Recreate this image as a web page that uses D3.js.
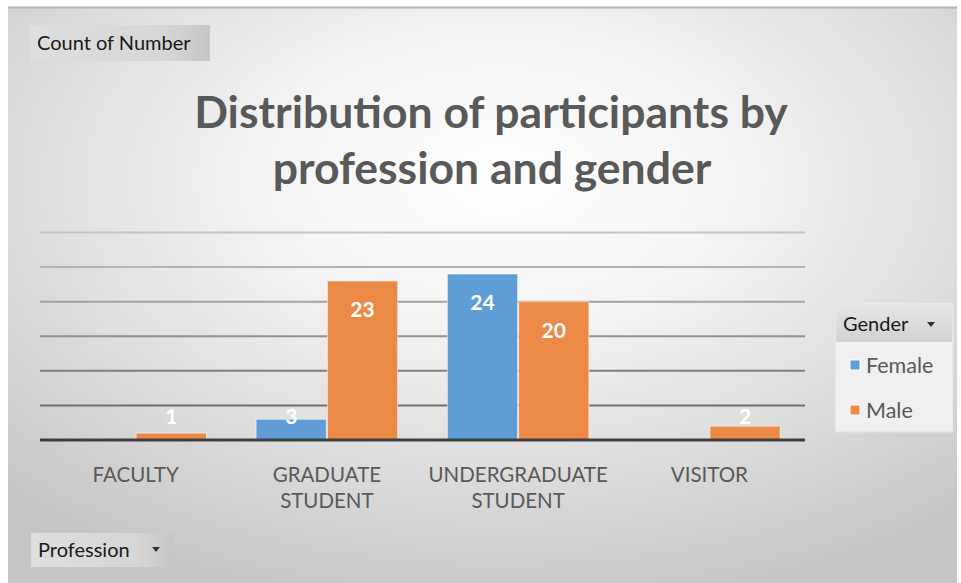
<!DOCTYPE html>
<html>
<head>
<meta charset="utf-8">
<script src="https://cdn.jsdelivr.net/npm/d3@7"></script>
<style>
  body { margin: 0; background: #fff; }
  svg { display: block; font-family: Lato, "Open Sans", sans-serif; }
</style>
</head>
<body>
<svg width="961" height="583"></svg>
<script>
const professions = ["FACULTY", "GRADUATE STUDENT", "UNDERGRADUATE STUDENT", "VISITOR"];
const genders = ["Female", "Male"];
const female = [0, 3, 24, 0];
const male = [1, 23, 20, 2];
const gridTicks = [0, 5, 10, 15, 20, 25, 30];
const colors = ["#5f9dd6", "#ec8946"];

const svg = d3.select("svg"),
    width = 961,
    height = 583;

const defs = svg.append("defs");
const bg = defs.append("radialGradient").attr("id", "bg")
    .attr("cx", "52%").attr("cy", "30%").attr("r", "75%");
bg.append("stop").attr("offset", "0%").attr("stop-color", "#ffffff");
bg.append("stop").attr("offset", "35%").attr("stop-color", "#f3f3f3");
bg.append("stop").attr("offset", "100%").attr("stop-color", "#c6c6c6");

const btn = defs.append("linearGradient").attr("id", "btn");
btn.append("stop").attr("offset", "0%").attr("stop-color", "#dedede");
btn.append("stop").attr("offset", "75%").attr("stop-color", "#d6d6d6");
btn.append("stop").attr("offset", "100%").attr("stop-color", "#c6c6c6");

// chart area
svg.append("rect")
    .attr("x", 8).attr("y", 8)
    .attr("width", width - 12).attr("height", height - 8)
    .attr("fill", "url(#bg)");
svg.append("line")
    .attr("x1", 8).attr("x2", width - 4)
    .attr("y1", 7.5).attr("y2", 7.5)
    .attr("stroke", "#b4b4b4").attr("stroke-width", 2);

// title
const title = svg.append("text")
    .attr("text-anchor", "middle")
    .attr("fill", "#595959")
    .attr("font-weight", "bold")
    .attr("font-size", 44.5);
title.append("tspan").attr("x", 491).attr("y", 128).text("Distribution of participants by");
title.append("tspan").attr("x", 492).attr("y", 184).text("profession and gender");

// scales
const x0 = d3.scaleBand()
    .domain(professions)
    .range([40, 805])
    .paddingInner(0.26)
    .paddingOuter(0.13);

const x1 = d3.scaleBand()
    .domain(genders)
    .range([0, x0.bandwidth()])
    .paddingInner(0.015);

const y = d3.scaleLinear()
    .domain([0, 30])
    .range([440, 232.5]);

const gridColor = d3.scaleLinear().domain([5, 30]).range(["#6e6e6e", "#c4c4c4"]);

// gridlines
svg.append("g")
    .selectAll("line")
    .data(gridTicks.filter(d => d > 0))
    .enter().append("line")
    .attr("x1", 40).attr("x2", 805)
    .attr("y1", d => y(d)).attr("y2", d => y(d))
    .attr("stroke", d => gridColor(d))
    .attr("stroke-width", 2);

// bars
const rows = professions.map((p, i) => ({
    profession: p,
    values: [
        { gender: "Female", value: female[i] },
        { gender: "Male", value: male[i] }
    ]
}));

const group = svg.append("g")
    .selectAll("g")
    .data(rows)
    .enter().append("g")
    .attr("transform", d => "translate(" + x0(d.profession) + ",0)");

group.selectAll("rect")
    .data(d => d.values.filter(v => v.value > 0))
    .enter().append("rect")
    .attr("x", d => x1(d.gender))
    .attr("y", d => y(d.value))
    .attr("width", x1.bandwidth())
    .attr("height", d => y(0) - y(d.value))
    .attr("fill", d => colors[genders.indexOf(d.gender)])
    .attr("stroke", "#ffffff")
    .attr("stroke-opacity", 0.55)
    .attr("stroke-width", 1);

group.selectAll("text")
    .data(d => d.values.filter(v => v.value > 0))
    .enter().append("text")
    .attr("x", d => x1(d.gender) + x1.bandwidth() / 2)
    .attr("y", d => Math.min(y(d.value) + 36, y(0) - 16))
    .attr("text-anchor", "middle")
    .attr("fill", "#ffffff")
    .attr("font-weight", "bold")
    .attr("font-size", 21)
    .text(d => d.value);

// baseline
svg.append("line")
    .attr("x1", 40).attr("x2", 805)
    .attr("y1", y(0)).attr("y2", y(0))
    .attr("stroke", "#3f3f3f")
    .attr("stroke-width", 3);

// category axis
const xAxis = svg.append("g")
    .attr("transform", "translate(0," + 466 + ")")
    .call(d3.axisBottom(x0).tickSize(0).tickPadding(0));
xAxis.select(".domain").remove();
xAxis.selectAll("text")
    .attr("fill", "#595959")
    .attr("font-size", 20.5)
    .attr("font-family", "Lato, sans-serif")
    .attr("dy", null)
    .attr("y", 16)
    .each(function(d) {
        const t = d3.select(this);
        const words = d.split(" ");
        t.text(null);
        words.forEach((w, i) => {
            t.append("tspan").attr("x", 0).attr("y", 16 + i * 26).text(w);
        });
    });

// field buttons
function fieldButton(x, yy, w, h, label, arrow) {
    const g = svg.append("g");
    g.append("rect")
        .attr("x", x).attr("y", yy).attr("width", w).attr("height", h)
        .attr("fill", "url(#btn)");
    g.append("text")
        .attr("x", x + 7).attr("y", yy + h / 2 + 7)
        .attr("fill", "#1a1a1a")
        .attr("font-size", 20)
        .text(label);
    if (arrow) {
        const ax = x + w - 17, ay = yy + h / 2 - 1;
        g.append("path")
            .attr("d", "M" + (ax - 4) + "," + (ay - 2) + "L" + (ax + 4) + "," + (ay - 2) + "L" + ax + "," + (ay + 3) + "Z")
            .attr("fill", "#333");
    }
    return g;
}

fieldButton(30, 25, 180, 36, "Count of Number", false);
fieldButton(31, 533, 142, 34, "Profession", true);

// legend
const legend = svg.append("g");
legend.append("rect")
    .attr("x", 835).attr("y", 303).attr("width", 118).attr("height", 129)
    .attr("fill", "#f0f0f0")
    .attr("stroke", "#e2e2e2");
const lh = defs.append("linearGradient").attr("id", "lh")
    .attr("x1", 0).attr("y1", 0).attr("x2", 0).attr("y2", 1);
lh.append("stop").attr("offset", "0%").attr("stop-color", "#e6e6e6");
lh.append("stop").attr("offset", "100%").attr("stop-color", "#d2d2d2");
legend.append("rect")
    .attr("x", 836).attr("y", 304).attr("width", 116).attr("height", 38)
    .attr("fill", "url(#lh)");
legend.append("text")
    .attr("x", 843).attr("y", 331)
    .attr("fill", "#1a1a1a")
    .attr("font-size", 20)
    .text("Gender");
legend.append("path")
    .attr("d", "M927,322L935,322L931,327Z")
    .attr("fill", "#333");

const item = legend.selectAll("g.item")
    .data(genders)
    .enter().append("g")
    .attr("class", "item")
    .attr("transform", (d, i) => "translate(0," + (365 + i * 45) + ")");
item.append("rect")
    .attr("x", 850).attr("y", -5)
    .attr("width", 10).attr("height", 10)
    .attr("fill", (d, i) => colors[i])
    .attr("stroke", "#ffffff").attr("stroke-width", 1);
item.append("text")
    .attr("x", 866).attr("y", 8)
    .attr("fill", "#595959")
    .attr("font-size", 21.5)
    .text(d => d);
</script>
</body>
</html>
